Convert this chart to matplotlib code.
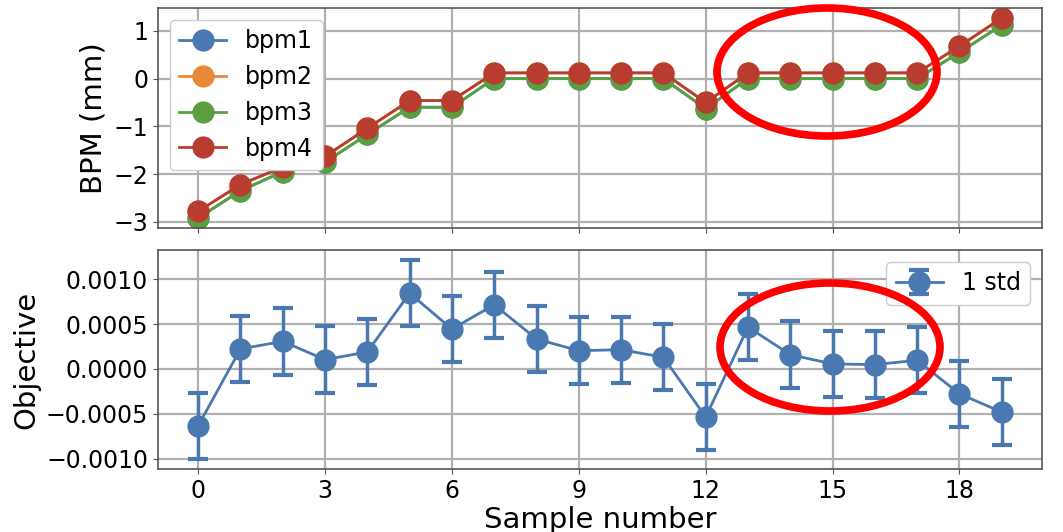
import matplotlib
matplotlib.use('Agg')
import matplotlib.pyplot as plt
from matplotlib.patches import Ellipse
import numpy as np

# sample index
samples = np.arange(20)

# BPM readings (mm)
bpm1 = [-2.92, -2.35, -1.95, -1.75, -1.17, -0.60, -0.60, 0.0, 0.0, 0.0,
        0.0, 0.0, -0.63, 0.0, 0.0, 0.0, 0.0, 0.0, 0.55, 1.12]
bpm2 = [-2.78, -2.22, -1.85, -1.63, -1.04, -0.46, -0.46, 0.12, 0.12, 0.12,
        0.12, 0.12, -0.50, 0.12, 0.12, 0.12, 0.12, 0.12, 0.68, 1.27]
bpm3 = [-2.92, -2.35, -1.95, -1.75, -1.17, -0.60, -0.60, 0.0, 0.0, 0.0,
        0.0, 0.0, -0.63, 0.0, 0.0, 0.0, 0.0, 0.0, 0.55, 1.12]
bpm4 = [-2.78, -2.22, -1.85, -1.63, -1.04, -0.46, -0.46, 0.12, 0.12, 0.12,
        0.12, 0.12, -0.50, 0.12, 0.12, 0.12, 0.12, 0.12, 0.68, 1.27]

# objective mean and std
objective = [-0.000635, 0.000222, 0.000307, 0.000103, 0.000189, 0.000844, 0.000444,
             0.000715, 0.000333, 0.000203, 0.000214, 0.000130, -0.000537, 0.000466,
             0.000159, 0.000055, 0.000048, 0.000096, -0.000278, -0.000481]
obj_std = [0.00037, 0.00037, 0.00037, 0.00037, 0.00037, 0.00037, 0.00037,
           0.00037, 0.00037, 0.00037, 0.00037, 0.00037, 0.00037, 0.00037,
           0.00037, 0.00037, 0.00037, 0.00037, 0.00037, 0.00037]

colors = ['#4a78b0', '#e8893a', '#5a9f40', '#b83c30']

plt.rcParams['font.family'] = 'DejaVu Sans'
plt.rcParams['grid.color'] = '#b0b0b0'
plt.rcParams['grid.linewidth'] = 1.6
plt.rcParams['axes.edgecolor'] = '#555555'
plt.rcParams['axes.linewidth'] = 1.2
plt.rcParams['xtick.color'] = '#555555'
plt.rcParams['ytick.color'] = '#555555'
plt.rcParams['xtick.labelcolor'] = 'black'
plt.rcParams['ytick.labelcolor'] = 'black'

fig = plt.figure(figsize=(10.63, 5.32), dpi=100)
ax1 = fig.add_axes([0.1486, 0.5714, 0.8316, 0.4136])
ax2 = fig.add_axes([0.1486, 0.1184, 0.8316, 0.4116], sharex=ax1)

for vals, name, c in zip([bpm1, bpm2, bpm3, bpm4], ['bpm1', 'bpm2', 'bpm3', 'bpm4'], colors):
    ax1.plot(samples, vals, '-o', color=c, ms=15, lw=2, label=name)
ax1.set_ylabel('BPM (mm)', fontsize=21)
ax1.set_yticks([-3, -2, -1, 0, 1])
ax1.grid(True)
ax1.tick_params(labelsize=17, labelbottom=False)
ax1.legend(loc='upper left', fontsize=17, framealpha=1.0)

ax2.errorbar(samples, objective, yerr=obj_std, fmt='-o', color=colors[0], ms=15, lw=2,
             capsize=7, capthick=3, elinewidth=2.5, label='1 std')
ax2.set_ylabel('Objective', fontsize=21)
ax2.set_xlabel('Sample number', fontsize=21, labelpad=2)
ax2.set_xticks([0, 3, 6, 9, 12, 15, 18])
ax2.set_yticks([-0.001, -0.0005, 0, 0.0005, 0.001])
ax2.set_yticklabels(['\u22120.0010', '\u22120.0005', '0.0000', '0.0005', '0.0010'])
ax2.grid(True)
ax2.tick_params(labelsize=17)
ax2.legend(loc='upper right', fontsize=17, framealpha=1.0)

# red highlight ellipses
for cx, cy in [(827, 72), (830, 347)]:
    e = Ellipse((cx / 1063, 1 - cy / 532), 220 / 1063, 128 / 532, transform=fig.transFigure,
                fill=False, edgecolor='#ff0000', lw=5.5, clip_on=False)
    fig.patches.append(e)

fig.savefig('out.png', dpi=100)
